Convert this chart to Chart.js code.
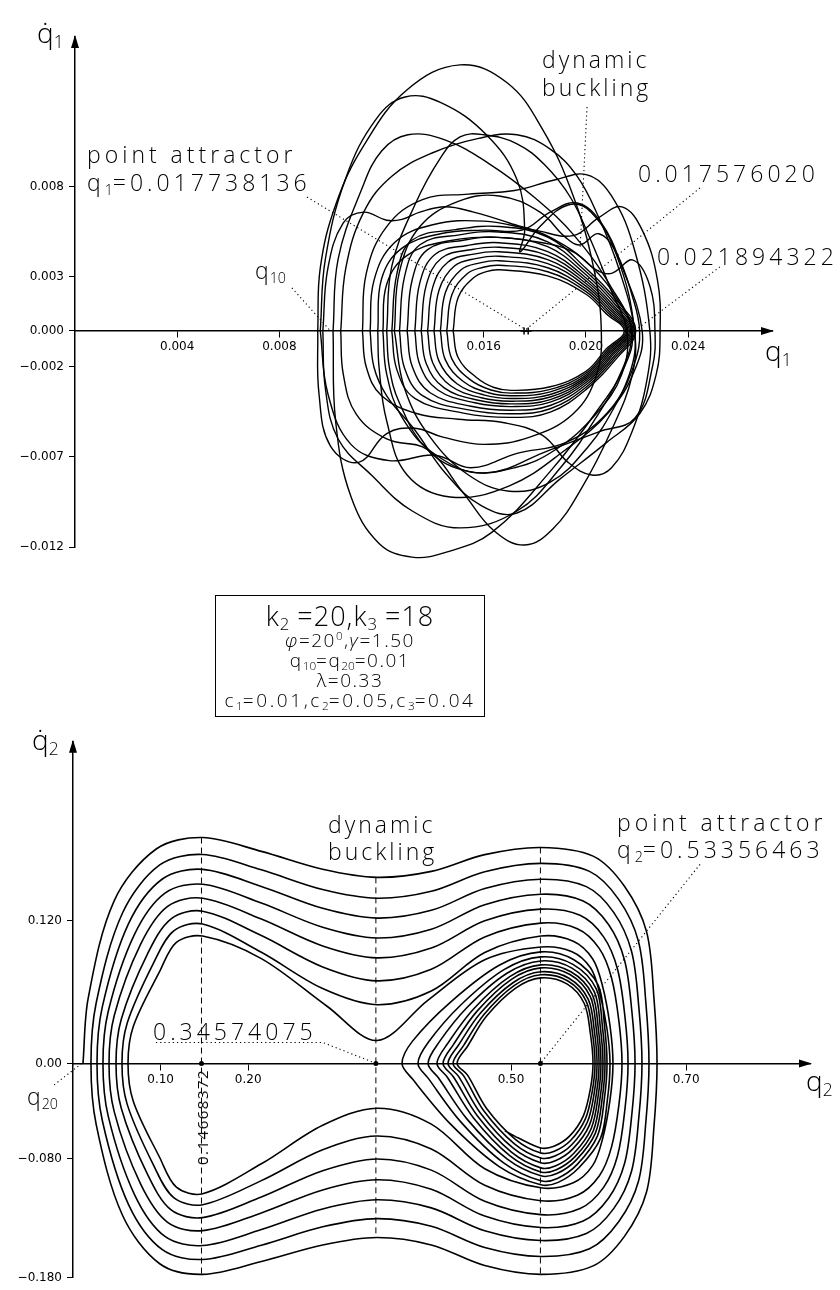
<!DOCTYPE html>
<html>
<head>
<meta charset="utf-8">
<script src="https://cdn.jsdelivr.net/npm/chart.js@4.4.1/dist/chart.umd.min.js"></script>
<style>
  body { margin: 0; background: #fff; }
  #page { position: relative; width: 840px; height: 1290px; overflow: hidden; background: #fff; }
  .wrap { position: absolute; left: 0; }
  .t { position: absolute; font-family: "Open Sans", "DejaVu Sans", sans-serif; font-weight: 300; color: #000; white-space: nowrap; }
  .big { font-size: 23px; letter-spacing: 4px; line-height: 28px; }
  .ax { font-size: 28px; line-height: 28px; }
  .t sub { font-size: 0.62em; vertical-align: -0.3em; line-height: 0; letter-spacing: 0; }
  #box { position: absolute; left: 215px; top: 595px; width: 268px; height: 120px; border: 1.5px solid #000;
         display: flex; flex-direction: column; align-items: center; justify-content: center;
         font-family: "Open Sans", "DejaVu Sans", sans-serif; font-weight: 300; color: #000; }
  #box div { white-space: nowrap; letter-spacing: 1.5px; font-size: 19px; line-height: 20px; }
  #box sub { font-size: 0.62em; vertical-align: -0.25em; line-height: 0; letter-spacing: 0; }
  #box sup { font-size: 0.6em; vertical-align: 0.6em; line-height: 0; }
</style>
</head>
<body>
<div id="page">
  <div class="wrap" style="top:0;width:840px;height:600px"><canvas id="topChart" width="840" height="600"></canvas></div>
  <div class="wrap" style="top:700px;width:840px;height:590px"><canvas id="botChart" width="840" height="590"></canvas></div>

  <!-- top chart texts -->
  <div class="t ax" style="left:37px;top:18px">q&#775;<sub>1</sub></div>
  <div class="t ax" style="left:765px;top:336px">q<sub>1</sub></div>
  <div class="t big" style="left:87px;top:140px">point attractor</div>
  <div class="t big" style="left:87px;top:168px">q<sub>1</sub>=0.017738136</div>
  <div class="t big" style="left:255px;top:256px;letter-spacing:1px">q<sub>10</sub></div>
  <div class="t big" style="left:542px;top:45px;letter-spacing:3px">dynamic</div>
  <div class="t big" style="left:542px;top:73px;letter-spacing:3px">buckling</div>
  <div class="t big" style="left:638px;top:159px">0.017576020</div>
  <div class="t big" style="left:657px;top:242px">0.021894322</div>

  <div id="box">
    <div style="font-size:27px;line-height:28px;letter-spacing:1px">k<sub>2</sub> =20,k<sub>3</sub> =18</div>
    <div><i>&#966;</i>=20<sup>0</sup>,<i>&#947;</i>=1.50</div>
    <div>q<sub>10</sub>=q<sub>20</sub>=0.01</div>
    <div>&#955;=0.33</div>
    <div style="letter-spacing:2.6px">c<sub>1</sub>=0.01,c<sub>2</sub>=0.05,c<sub>3</sub>=0.04</div>
  </div>

  <!-- bottom chart texts -->
  <div class="t ax" style="left:32px;top:725px">q&#775;<sub>2</sub></div>
  <div class="t ax" style="left:806px;top:1066px">q<sub>2</sub></div>
  <div class="t big" style="left:27px;top:1082px;letter-spacing:1px">q<sub>20</sub></div>
  <div class="t big" style="left:328px;top:810px;letter-spacing:3px">dynamic</div>
  <div class="t big" style="left:328px;top:837px;letter-spacing:3px">buckling</div>
  <div class="t big" style="left:617px;top:808px">point attractor</div>
  <div class="t big" style="left:617px;top:835px">q<sub>2</sub>=0.53356463</div>
  <div class="t big" style="left:153px;top:1017px">0.34574075</div>
  <div class="t" style="left:202px;top:1117px;font-size:15px;letter-spacing:1.5px;font-weight:400;transform:translate(-50%,-50%) rotate(-90deg)">0.14668372</div>
</div>

<script>
// ======= Top chart data (q1, q1dot read in units of 1e-3) =======
const MILLI = 1e-3;
const topXTicks = [0.004, 0.008, 0.016, 0.020, 0.024];
const topXLabels = ["0.004", "0.008", "0.016", "0.020", "0.024"];
const topYTicks = [0.008, 0.003, 0, -0.002, -0.007, -0.012];
const topYLabels = ["0.008", "0.003", "0.000", "\u22120.002", "\u22120.007", "\u22120.012"];

// nested loops closing in on the right cusp
const topInnerLoops = [
  [[14.8,0],[15.0,1.87],[15.6,2.96],[16.1,3.3],[16.6,3.4],[18.5,3.06],[20.0,2.04],[20.8,0.95],[21.5,0],[20.8,-0.99],[20.0,-2.24],[18.6,-3.1],[17.1,-3.3],[16.4,-3.14],[15.7,-2.57],[15.0,-1.49],[14.8,0]],
  [[14.55,0],[14.75,2.01],[15.35,3.18],[15.98,3.54],[16.6,3.65],[18.5,3.29],[20.0,2.19],[20.85,1.02],[21.55,0],[20.85,-1.04],[20.0,-2.35],[18.6,-3.24],[17.1,-3.45],[16.28,-3.28],[15.45,-2.69],[14.75,-1.55],[14.55,0]],
  [[14.3,0],[14.5,2.15],[15.1,3.39],[15.85,3.78],[16.6,3.9],[18.5,3.51],[20.0,2.34],[20.9,1.09],[21.6,0],[20.9,-1.08],[20.0,-2.45],[18.6,-3.38],[17.1,-3.6],[16.15,-3.42],[15.2,-2.81],[14.5,-1.62],[14.3,0]],
  [[14.05,0],[14.25,2.28],[14.85,3.61],[15.73,4.03],[16.6,4.15],[18.5,3.74],[20.0,2.49],[20.95,1.16],[21.65,0],[20.95,-1.13],[20.0,-2.55],[18.6,-3.53],[17.1,-3.75],[16.03,-3.56],[14.95,-2.93],[14.25,-1.69],[14.05,0]],
  [[13.8,0],[14.0,2.42],[14.6,3.83],[15.6,4.27],[16.6,4.4],[18.5,3.96],[20.0,2.64],[21.0,1.23],[21.7,0],[21.0,-1.17],[20.0,-2.65],[18.6,-3.67],[17.1,-3.9],[15.9,-3.71],[14.7,-3.04],[14.0,-1.76],[13.8,0]],
  [[13.55,0],[13.75,2.56],[14.35,4.05],[15.48,4.51],[16.6,4.65],[18.5,4.19],[20.0,2.79],[21.05,1.3],[21.75,0],[21.05,-1.22],[20.0,-2.75],[18.6,-3.81],[17.1,-4.05],[15.78,-3.85],[14.45,-3.16],[13.75,-1.82],[13.55,0]],
  [[13.3,0],[13.5,2.7],[14.1,4.26],[15.35,4.75],[16.6,4.9],[18.5,4.41],[20.0,2.94],[21.1,1.37],[21.8,0],[21.1,-1.26],[20.0,-2.86],[18.6,-3.95],[17.1,-4.2],[15.65,-3.99],[14.2,-3.28],[13.5,-1.89],[13.3,0]],
  [[13.0,0],[13.2,2.86],[13.8,4.52],[15.2,5.04],[16.6,5.2],[18.5,4.68],[20.0,3.12],[21.15,1.46],[21.85,0],[21.15,-1.32],[20.0,-2.99],[18.6,-4.14],[17.1,-4.4],[15.5,-4.18],[13.9,-3.43],[13.2,-1.98],[13.0,0]],
  [[12.7,0],[12.9,3.03],[13.5,4.79],[15.05,5.34],[16.6,5.5],[18.5,4.95],[20.0,3.3],[21.2,1.54],[21.9,0],[21.2,-1.38],[20.0,-3.13],[18.6,-4.32],[17.1,-4.6],[15.35,-4.37],[13.6,-3.59],[12.9,-2.07],[12.7,0]],
  [[12.4,0],[12.6,3.19],[13.2,5.05],[14.9,5.63],[16.6,5.8],[18.5,5.22],[20.0,3.48],[21.25,1.62],[21.95,0],[21.25,-1.44],[20.0,-3.26],[18.6,-4.51],[17.1,-4.8],[15.2,-4.56],[13.3,-3.74],[12.6,-2.16],[12.4,0]]
];

// large wandering loops of the transient
const topOuterLoops = [
  [[9.5,0],[9.6,3.5],[10.2,7.0],[11.3,10.3],[13.0,13.4],[15.07,14.78],[16.9,13.8],[18.3,11.2],[19.5,7.5],[20.3,3.5],[20.6,0],[20.4,-2.5],[19.5,-4.6],[17.8,-5.9],[16.0,-6.3],[14.4,-5.9],[13.3,-5.4],[12.2,-5.7],[11.1,-7.3],[10.0,-6.4],[9.55,-3.5],[9.5,0]],
  [[9.6,0],[9.8,4.0],[10.6,8.5],[11.8,11.8],[12.92,13.0],[14.3,12.7],[16.1,10.9],[17.3,8.4],[17.6,5.6],[17.42,4.4],[18.2,5.8],[19.3,7.0],[20.2,6.6],[21.2,4.2],[21.9,0],[21.7,-2.4],[20.8,-4.6],[19.2,-6.2],[17.3,-6.8],[15.5,-7.6],[14.1,-6.9],[12.3,-7.2],[10.8,-6.3],[9.9,-3.5],[9.6,0]],
  [[10.1,0],[10.3,4.0],[11.2,7.8],[12.0,10.0],[13.03,10.9],[14.5,10.6],[16.2,9.3],[18.0,7.4],[19.6,5.2],[21.0,2.4],[21.8,0],[21.5,-2.0],[20.4,-4.5],[18.6,-7.8],[16.3,-11.2],[14.5,-12.3],[13.19,-12.56],[11.9,-11.8],[10.8,-9.2],[10.2,-5.0],[10.1,0]],
  [[10.4,0],[10.6,3.5],[11.3,6.6],[12.4,8.6],[14.0,9.9],[15.8,10.7],[17.3,10.9],[18.6,10.1],[19.65,8.6],[20.5,6.3],[21.3,3.4],[21.9,0],[21.8,-2.5],[21.0,-5.5],[19.8,-8.8],[18.7,-11.0],[17.61,-11.89],[16.4,-11.1],[15.2,-9.0],[13.8,-6.6],[12.2,-6.0],[11.0,-4.6],[10.5,-2.4],[10.4,0]],
  [[9.7,0],[9.9,3.5],[10.5,6.0],[11.3,6.6],[12.2,6.15],[12.8,6.2],[13.5,6.6],[14.5,6.9],[15.6,6.6],[17.0,6.0],[18.6,5.2],[20.2,3.6],[21.3,1.6],[21.8,0],[21.4,-2.2],[20.4,-4.8],[19.0,-7.6],[17.3,-10.0],[15.07,-10.94],[13.2,-10.0],[11.6,-8.0],[10.3,-6.0],[9.8,-3.2],[9.7,0]],
  [[11.25,0],[11.4,3.2],[12.2,5.8],[13.6,7.3],[15.4,7.6],[17.2,7.8],[18.8,8.4],[20.04,8.67],[21.0,7.5],[21.9,4.5],[22.5,0],[22.4,-2.6],[21.8,-5.6],[21.0,-7.6],[20.23,-8.0],[19.3,-7.3],[18.3,-5.8],[16.8,-5.1],[15.0,-4.9],[13.4,-4.6],[12.0,-3.6],[11.4,-2.0],[11.25,0]],
  [[11.55,0],[11.7,2.8],[12.5,4.9],[14.0,5.9],[16.0,6.1],[18.0,5.6],[19.5,5.3],[20.5,6.3],[21.41,6.89],[22.2,5.6],[22.8,2.8],[22.9,0],[22.75,-2.4],[22.1,-4.6],[20.8,-6.2],[19.0,-8.2],[17.3,-10.11],[15.9,-9.7],[14.5,-7.9],[13.3,-5.5],[12.2,-3.6],[11.7,-2.0],[11.55,0]],
  [[11.85,0],[12.0,2.9],[12.8,4.6],[14.3,5.4],[16.0,5.6],[17.5,5.6],[18.6,6.6],[19.65,7.11],[20.6,6.0],[21.4,3.6],[22.2,0],[21.9,-2.2],[20.9,-4.5],[19.2,-6.6],[17.0,-8.6],[14.68,-9.22],[13.0,-8.0],[12.2,-5.0],[11.9,-2.0],[11.85,0]],
  [[12.05,0],[12.2,2.6],[13.0,4.2],[14.6,5.0],[16.5,5.2],[18.3,4.9],[19.5,4.4],[20.4,3.4],[21.0,3.2],[21.84,3.94],[22.5,2.5],[22.7,0],[22.6,-2.0],[21.92,-4.83],[20.5,-5.6],[18.6,-6.6],[16.05,-7.89],[14.13,-6.89],[12.8,-4.8],[12.2,-2.4],[12.05,0]],
  [[12.2,0],[12.4,3.6],[13.3,7.0],[14.3,9.6],[15.07,10.78],[16.0,10.9],[17.3,10.4],[18.4,9.2],[19.4,7.4],[20.2,5.0],[21.0,2.2],[21.6,0],[21.4,-2.4],[20.4,-4.6],[18.8,-6.6],[17.2,-7.6],[15.4,-7.8],[13.8,-6.6],[12.7,-4.0],[12.3,-2.0],[12.2,0]],
  [[12.5,0],[12.7,3.3],[13.5,5.8],[15.0,7.2],[16.6,7.5],[18.2,6.6],[19.2,5.2],[19.77,4.78],[20.5,5.4],[21.2,4.3],[21.8,2.0],[22.1,0],[21.9,-1.8],[21.2,-4.0],[20.1,-6.4],[18.6,-8.4],[17.0,-8.9],[15.4,-8.0],[13.9,-5.9],[12.9,-3.2],[12.5,0]]
];

const topMarks = [[17.576, 0], [17.738, 0]];
const topLeaders = [
  [[9.08, 7.44], [17.738, 0]],     // point attractor
  [[8.49, 2.39], [10.0, 0]],       // q10
  [[20.04, 12.44], [19.77, 4.61]], // dynamic buckling
  [[24.46, 7.94], [17.576, 0]],    // 0.017576020
  [[25.24, 3.56], [21.894, 0]]     // 0.021894322
];

// ======= Bottom chart data (q2, q2dot) =======
const botXTicks = [0.10, 0.20, 0.50, 0.70];
const botXLabels = ["0.10", "0.20", "0.50", "0.70"];
const botYTicks = [0.12, 0, -0.08, -0.18];
const botYLabels = ["0.120", "0.00", "\u22120.080", "\u22120.180"];

// passes over the top, from q20 on the left to the right crossing
const upperArcs = [
  [[0.0114,0],[0.0174,0.055],[0.047,0.1365],[0.095,0.180],[0.148,0.1896],[0.215,0.178],[0.285,0.163],[0.347,0.1562],[0.409,0.1612],[0.47,0.1753],[0.534,0.1813],[0.5937,0.174],[0.6295,0.1487],[0.6547,0.1106],[0.6632,0.0544],[0.6667,0]],
  [[0.0205,0],[0.0265,0.0509],[0.0565,0.1263],[0.099,0.1666],[0.148,0.1754],[0.215,0.1625],[0.285,0.146],[0.347,0.1387],[0.409,0.1445],[0.47,0.1609],[0.534,0.1679],[0.5896,0.1612],[0.6229,0.1377],[0.6455,0.1024],[0.654,0.0504],[0.6575,0]],
  [[0.0274,0],[0.0334,0.0472],[0.0634,0.1173],[0.102,0.1548],[0.148,0.1629],[0.215,0.1486],[0.285,0.1302],[0.347,0.122],[0.409,0.1285],[0.47,0.1468],[0.534,0.1546],[0.586,0.1484],[0.6172,0.1268],[0.6375,0.0943],[0.646,0.0464],[0.6495,0]],
  [[0.0342,0],[0.0402,0.0436],[0.0702,0.1083],[0.105,0.1429],[0.148,0.1504],[0.215,0.1346],[0.285,0.1143],[0.347,0.1053],[0.409,0.1126],[0.47,0.1332],[0.534,0.142],[0.5824,0.1363],[0.6115,0.1164],[0.6296,0.0866],[0.6381,0.0426],[0.6416,0]],
  [[0.0411,0],[0.0471,0.0402],[0.0771,0.0999],[0.108,0.1318],[0.148,0.1387],[0.215,0.1212],[0.285,0.0986],[0.347,0.0886],[0.409,0.0968],[0.47,0.1197],[0.534,0.1295],[0.5788,0.1243],[0.6057,0.1062],[0.6216,0.079],[0.6301,0.0389],[0.6336,0]],
  [[0.0491,0],[0.0551,0.0371],[0.0851,0.092],[0.112,0.1214],[0.148,0.1278],[0.215,0.1073],[0.285,0.081],[0.347,0.0693],[0.409,0.079],[0.47,0.1062],[0.534,0.1178],[0.5757,0.1131],[0.6007,0.0966],[0.6147,0.0719],[0.6232,0.0353],[0.6267,0]],
  [[0.0559,0],[0.0619,0.0339],[0.0919,0.0842],[0.115,0.1112],[0.148,0.117],[0.215,0.0933],[0.285,0.0628],[0.347,0.0493],[0.409,0.0608],[0.47,0.0931],[0.534,0.1069],[0.5711,0.1026],[0.5933,0.0877],[0.6044,0.0652],[0.6129,0.0321],[0.6164,0]],
  [[0.0628,0],[0.0688,0.031],[0.0988,0.077],[0.118,0.1016],[0.148,0.1069],[0.215,0.088],[0.29,0.048],[0.347,0.0192],[0.405,0.053],[0.47,0.087],[0.534,0.0977],[0.5696,0.0938],[0.5909,0.0801],[0.601,0.0596],[0.6095,0.0293],[0.613,0]]
];

// passes underneath, back to the next left crossing
const lowerArcs = [
  [[0.6667,0],[0.6632,-0.0531],[0.6547,-0.108],[0.6295,-0.1452],[0.5937,-0.17],[0.534,-0.1771],[0.47,-0.1697],[0.409,-0.1524],[0.347,-0.1462],[0.285,-0.1524],[0.215,-0.1663],[0.148,-0.1771],[0.099,-0.1682],[0.0565,-0.1275],[0.0265,-0.0514],[0.0205,0]],
  [[0.6575,0],[0.654,-0.0486],[0.6455,-0.0989],[0.6229,-0.1329],[0.5896,-0.1556],[0.534,-0.1621],[0.47,-0.1545],[0.409,-0.1367],[0.347,-0.1303],[0.285,-0.1372],[0.215,-0.1526],[0.148,-0.1646],[0.102,-0.1564],[0.0634,-0.1185],[0.0334,-0.0477],[0.0274,0]],
  [[0.6495,0],[0.646,-0.0446],[0.6375,-0.0907],[0.6172,-0.1219],[0.586,-0.1428],[0.534,-0.1487],[0.47,-0.1405],[0.409,-0.1213],[0.347,-0.1145],[0.285,-0.1222],[0.215,-0.1395],[0.148,-0.1529],[0.105,-0.1453],[0.0702,-0.1101],[0.0402,-0.0443],[0.0342,0]],
  [[0.6416,0],[0.6381,-0.0413],[0.6296,-0.0841],[0.6115,-0.113],[0.5824,-0.1323],[0.534,-0.1378],[0.47,-0.1282],[0.409,-0.1057],[0.347,-0.0977],[0.285,-0.1062],[0.215,-0.1255],[0.148,-0.1404],[0.108,-0.1334],[0.0771,-0.1011],[0.0471,-0.0407],[0.0411,0]],
  [[0.6336,0],[0.6301,-0.0381],[0.6216,-0.0775],[0.6057,-0.1041],[0.5788,-0.1219],[0.534,-0.127],[0.47,-0.1158],[0.409,-0.0896],[0.347,-0.0802],[0.285,-0.0901],[0.215,-0.1122],[0.148,-0.1295],[0.112,-0.123],[0.0851,-0.0932],[0.0551,-0.0376],[0.0491,0]],
  [[0.6267,0],[0.6232,-0.0346],[0.6147,-0.0703],[0.6007,-0.0945],[0.5757,-0.1107],[0.534,-0.1153],[0.47,-0.1023],[0.409,-0.0719],[0.347,-0.061],[0.285,-0.0725],[0.215,-0.0984],[0.148,-0.1186],[0.115,-0.1127],[0.0919,-0.0854],[0.0619,-0.0344],[0.0559,0]],
  [[0.6164,0],[0.6129,-0.0313],[0.6044,-0.0637],[0.5933,-0.0856],[0.5711,-0.1002],[0.534,-0.1044],[0.47,-0.0884],[0.409,-0.051],[0.347,-0.0376],[0.285,-0.052],[0.215,-0.0843],[0.148,-0.1094],[0.118,-0.1039],[0.0988,-0.0788],[0.0688,-0.0317],[0.0628,0]]
];

// last pass that stays in the right well
const wellEntry = [[0.613,0],[0.61,-0.0306],[0.602,-0.0632],[0.5775,-0.0876],[0.5538,-0.0999],[0.534,-0.1019],[0.4865,-0.0866],[0.431,-0.051],[0.3876,-0.0132],[0.3756,0]];

const wellUpper = [
  [[0.3756,0],[0.3876,0.0187],[0.431,0.0515],[0.4865,0.0824],[0.534,0.0936],[0.5718,0.087],[0.5996,0.0655],[0.6066,0.0328],[0.6096,0]],
  [[0.3938,0],[0.4058,0.0179],[0.4429,0.0492],[0.492,0.0787],[0.534,0.0894],[0.5707,0.0831],[0.5973,0.0626],[0.6043,0.0313],[0.6073,0]],
  [[0.4053,0],[0.4173,0.0172],[0.4503,0.0473],[0.4954,0.0757],[0.534,0.086],[0.5695,0.08],[0.595,0.0602],[0.602,0.0301],[0.605,0]],
  [[0.4155,0],[0.4275,0.0165],[0.457,0.0455],[0.4985,0.0728],[0.534,0.0827],[0.5684,0.0769],[0.5927,0.0579],[0.5997,0.0289],[0.6027,0]],
  [[0.4224,0],[0.4344,0.016],[0.4615,0.0441],[0.5005,0.0706],[0.534,0.0802],[0.5673,0.0746],[0.5905,0.0561],[0.5975,0.0281],[0.6005,0]],
  [[0.4281,0],[0.4401,0.0154],[0.4652,0.0423],[0.5022,0.0677],[0.534,0.0769],[0.5661,0.0715],[0.5882,0.0538],[0.5952,0.0269],[0.5982,0]],
  [[0.4338,0],[0.4458,0.0149],[0.4689,0.0409],[0.5039,0.0655],[0.534,0.0744],[0.565,0.0692],[0.5859,0.0521],[0.5929,0.026],[0.5959,0]],
  [[0.4384,0],[0.4504,0.0144],[0.4719,0.0395],[0.5053,0.0632],[0.534,0.0718],[0.5638,0.0668],[0.5836,0.0503],[0.5906,0.0251],[0.5936,0]]
];

const wellLower = [
  [[0.6096,0],[0.6066,-0.0296],[0.5986,-0.0611],[0.5756,-0.0848],[0.5529,-0.0966],[0.534,-0.0986],[0.492,-0.0838],[0.4429,-0.0493],[0.4058,-0.0128],[0.3938,0]],
  [[0.6073,0],[0.6043,-0.0283],[0.5963,-0.0585],[0.5743,-0.0812],[0.5523,-0.0925],[0.534,-0.0944],[0.4954,-0.0802],[0.4503,-0.0472],[0.4173,-0.0123],[0.4053,0]],
  [[0.605,0],[0.602,-0.0273],[0.594,-0.0565],[0.5731,-0.0783],[0.5518,-0.0893],[0.534,-0.0911],[0.4985,-0.0774],[0.457,-0.0456],[0.4275,-0.0118],[0.4155,0]],
  [[0.6027,0],[0.5997,-0.0263],[0.5917,-0.0544],[0.5718,-0.0754],[0.5512,-0.0859],[0.534,-0.0877],[0.5005,-0.0745],[0.4615,-0.0439],[0.4344,-0.0114],[0.4224,0]],
  [[0.6005,0],[0.5975,-0.0251],[0.5895,-0.0518],[0.5706,-0.0718],[0.5506,-0.0818],[0.534,-0.0835],[0.5022,-0.071],[0.4652,-0.0418],[0.4401,-0.0109],[0.4281,0]],
  [[0.5982,0],[0.5952,-0.0238],[0.5872,-0.0492],[0.5693,-0.0683],[0.5501,-0.0778],[0.534,-0.0794],[0.5039,-0.0675],[0.4689,-0.0397],[0.4458,-0.0103],[0.4338,0]],
  [[0.5959,0],[0.5929,-0.0226],[0.5849,-0.0466],[0.568,-0.0647],[0.5495,-0.0737],[0.534,-0.0752],[0.5053,-0.0639],[0.4719,-0.0376],[0.4504,-0.0098],[0.4384,0]],
  [[0.5936,0],[0.5906,-0.0213],[0.5826,-0.044],[0.5668,-0.0611],[0.549,-0.0696],[0.534,-0.071],[0.508,-0.0625],[0.493,-0.0565]]
];

const botSpecial = [0.14668372, 0.34574075, 0.53356463];
const botGuideTop = [0.1896, 0.1562, 0.1813];
const botGuideBottom = [-0.1771, -0.1462, -0.1771];
const botLeaders = [
  [[0.0947, 0.0175], [0.2854, 0.0175], [0.34574075, 0]], // 0.34574075
  [[0.7158, 0.1671], [0.53356463, 0]],                   // point attractor q2
  [[-0.0215, -0.018], [0.01, 0]]                        // q20
];

// ======= Helpers =======
const INK = "#000";
const tickFont = { family: "DejaVu Sans", size: 12 };

function curve(pts, k, width, tension) {
  return {
    data: pts.map(([x, y]) => ({ x: x * k, y: y * k })),
    showLine: true, borderColor: INK, borderWidth: width,
    pointRadius: 0, tension, fill: false, clip: false
  };
}
function leader(pts, k) {
  return {
    data: pts.map(([x, y]) => ({ x: x * k, y: y * k })),
    showLine: true, borderColor: INK, borderWidth: 1.1, borderDash: [1.2, 3],
    pointRadius: 0, tension: 0, fill: false, clip: false
  };
}
function guide(x, y1, y2) {
  return {
    data: [{ x, y: y1 }, { x, y: y2 }],
    showLine: true, borderColor: INK, borderWidth: 1, borderDash: [6, 4],
    pointRadius: 0, tension: 0, fill: false
  };
}

// arrow heads on both axes
const arrowPlugin = {
  id: "arrows",
  afterDraw(chart) {
    const { ctx, scales: { x, y } } = chart;
    const x0 = x.getPixelForValue(0), y0 = y.getPixelForValue(0);
    ctx.save();
    ctx.fillStyle = INK;
    ctx.beginPath();
    ctx.moveTo(x.right + 2, y0); ctx.lineTo(x.right - 11, y0 - 4); ctx.lineTo(x.right - 11, y0 + 4);
    ctx.fill();
    ctx.beginPath();
    ctx.moveTo(x0, y.top - 2); ctx.lineTo(x0 - 4, y.top + 11); ctx.lineTo(x0 + 4, y.top + 11);
    ctx.fill();
    ctx.restore();
  }
};

function axes(xr, yr, xTicks, xLabels, yTicks, yLabels) {
  const grid = { drawOnChartArea: false, drawTicks: true, tickLength: 6, color: INK, lineWidth: 1 };
  const border = { display: true, color: INK, width: 1.5 };
  return {
    x: {
      type: "linear", position: { y: 0 }, min: xr[0], max: xr[1],
      afterBuildTicks: (s) => { s.ticks = xTicks.map((v) => ({ value: v })); },
      ticks: { callback: (v, i) => xLabels[i], font: tickFont, color: INK, padding: 3, maxRotation: 0, autoSkip: false },
      grid, border
    },
    y: {
      type: "linear", position: "left", min: yr[0], max: yr[1],
      afterFit: (s) => { s.width = 60; },
      afterBuildTicks: (s) => { s.ticks = yTicks.map((v) => ({ value: v })); },
      ticks: { callback: (v, i) => yLabels[i], font: tickFont, color: INK, padding: 5, autoSkip: false },
      grid, border
    }
  };
}

function baseOptions(padding, scales) {
  return {
    responsive: false, animation: false, devicePixelRatio: 1, events: [],
    layout: { padding },
    plugins: { legend: { display: false }, tooltip: { enabled: false } },
    scales
  };
}

// ======= Top chart =======
const topSets = [];
topInnerLoops.forEach((l) => topSets.push(curve(l, MILLI, 1.4, 0.4)));
topOuterLoops.forEach((l) => topSets.push(curve(l, MILLI, 1.4, 0.4)));
topLeaders.forEach((l) => topSets.push(leader(l, MILLI)));
topSets.push({
  data: topMarks.map(([x, y]) => ({ x: x * MILLI, y: y * MILLI })),
  showLine: false, pointStyle: "cross", pointRadius: 3.5, borderColor: INK, borderWidth: 1.5
});

new Chart(document.getElementById("topChart"), {
  type: "scatter",
  data: { datasets: topSets },
  options: baseOptions({ left: 15, top: 37, right: 68, bottom: 53 },
    axes([0, 0.02728], [-0.012, 0.01633], topXTicks, topXLabels, topYTicks, topYLabels)),
  plugins: [arrowPlugin]
});

// ======= Bottom chart =======
const spiralArcs = [];
for (let k = 0; k < lowerArcs.length; k++) spiralArcs.push(upperArcs[k], lowerArcs[k]);
spiralArcs.push(upperArcs[upperArcs.length - 1], wellEntry);
for (let j = 0; j < wellUpper.length; j++) spiralArcs.push(wellUpper[j], wellLower[j]);
const spiral = spiralArcs.reduce((acc, arc, i) => acc.concat(i ? arc.slice(1) : arc), []);

const botSets = [curve(spiral, 1, 1.6, 0.33)];
botSpecial.forEach((x, i) => botSets.push(guide(x, botGuideTop[i], botGuideBottom[i])));
botLeaders.forEach((l) => botSets.push(leader(l, 1)));
botSets.push({
  data: botSpecial.map((x) => ({ x, y: 0 })),
  showLine: false, pointStyle: "circle", pointRadius: 2.5, backgroundColor: INK, borderColor: INK, borderWidth: 0
});

new Chart(document.getElementById("botChart"), {
  type: "scatter",
  data: { datasets: botSets },
  options: baseOptions({ left: 13, top: 41.8, right: 30, bottom: 9.5 },
    axes([0, 0.8413], [-0.18, 0.27], botXTicks, botXLabels, botYTicks, botYLabels)),
  plugins: [arrowPlugin]
});
</script>
</body>
</html>
